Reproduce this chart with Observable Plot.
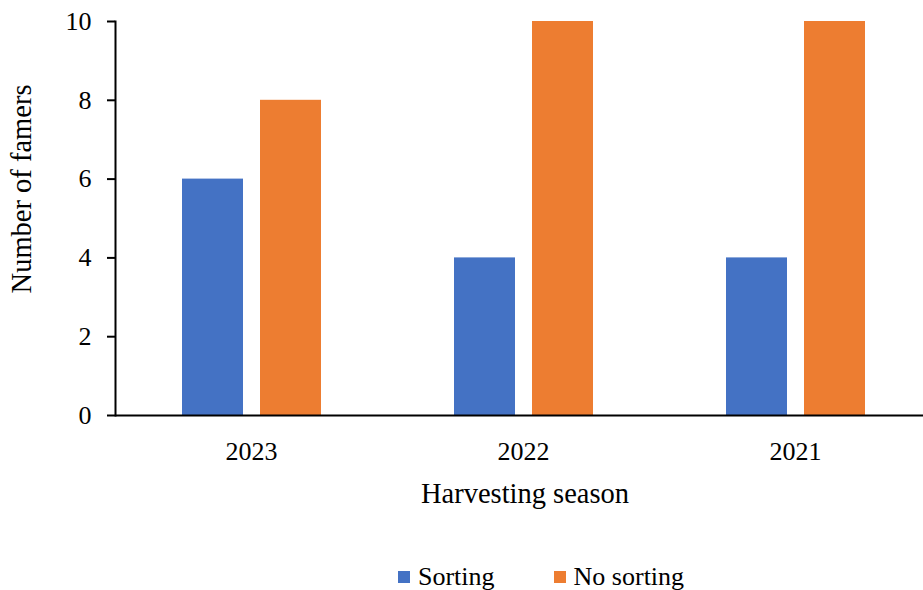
<!DOCTYPE html>
<html>
<head>
<meta charset="utf-8">
<script src="https://cdn.jsdelivr.net/npm/d3@7"></script>
<script src="https://cdn.jsdelivr.net/npm/@observablehq/plot@0.6"></script>
<style>
  html, body { margin: 0; padding: 0; background: #fff; }
  #wrap { position: relative; width: 923px; height: 590px; font-family: "Liberation Serif", "Times New Roman", serif; color: #000; }
  #chart svg line, #chart svg path { stroke-width: 2; }
  #legend { position: absolute; left: 398px; top: 562px; display: flex; align-items: center; font-size: 26px; }
  .item { display: flex; align-items: center; }
  .swatch { width: 12px; height: 12px; margin-right: 8px; }
</style>
</head>
<body>
<div id="wrap">
  <div id="chart"></div>
  <div id="legend"></div>
</div>
<script>
// Harvesting seasons and farmer counts per practice
const seasons = ["2023", "2022", "2021"];
const seriesNames = ["Sorting", "No sorting"];
const sorting = [6, 4, 4];
const noSorting = [8, 10, 10];
const yTicks = [0, 2, 4, 6, 8, 10];
const colors = ["#4472C4", "#ED7D31"];
const xTitle = "Harvesting season";
const yTitle = "Number of famers";

const rows = seasons.flatMap((s, i) => [
  {season: s, practice: seriesNames[0], farmers: sorting[i]},
  {season: s, practice: seriesNames[1], farmers: noSorting[i]}
]);

const chart = Plot.plot({
  width: 923,
  height: 540,
  marginTop: 21,
  marginBottom: 125,
  marginLeft: 115,
  marginRight: -8,
  style: {fontFamily: '"Liberation Serif", "Times New Roman", serif', fontSize: "26px", color: "#000", background: "transparent"},
  fx: {domain: seasons, padding: 0, label: null, tickSize: 0, tickPadding: 26, axis: "bottom"},
  x: {domain: seriesNames, paddingInner: 0.22, paddingOuter: 0.853, axis: null},
  y: {domain: [0, 10], ticks: yTicks, tickSize: 8, tickPadding: 16, label: null, line: true},
  color: {domain: seriesNames, range: colors},
  marks: [
    Plot.barY(rows, {fx: "season", x: "practice", y: "farmers", fill: "practice"}),
    Plot.ruleY([0], {stroke: "#000", strokeWidth: 2})
  ]
});
document.getElementById("chart").appendChild(chart);

// Axis titles
const svg = d3.select(chart);
svg.append("text")
  .attr("transform", "translate(31,189) rotate(-90)")
  .attr("text-anchor", "middle")
  .attr("fill", "#000")
  .style("font-size", "28.5px")
  .text(yTitle);
svg.append("text")
  .attr("x", 525)
  .attr("y", 503)
  .attr("text-anchor", "middle")
  .attr("fill", "#000")
  .style("font-size", "28.5px")
  .text(xTitle);

// Legend below the plot
const legend = d3.select("#legend");
seriesNames.forEach((name, i) => {
  const item = legend.append("div").attr("class", "item").style("margin-right", i === 0 ? "59px" : "0");
  item.append("div").attr("class", "swatch").style("background", colors[i]);
  item.append("span").text(name);
});
</script>
</body>
</html>
